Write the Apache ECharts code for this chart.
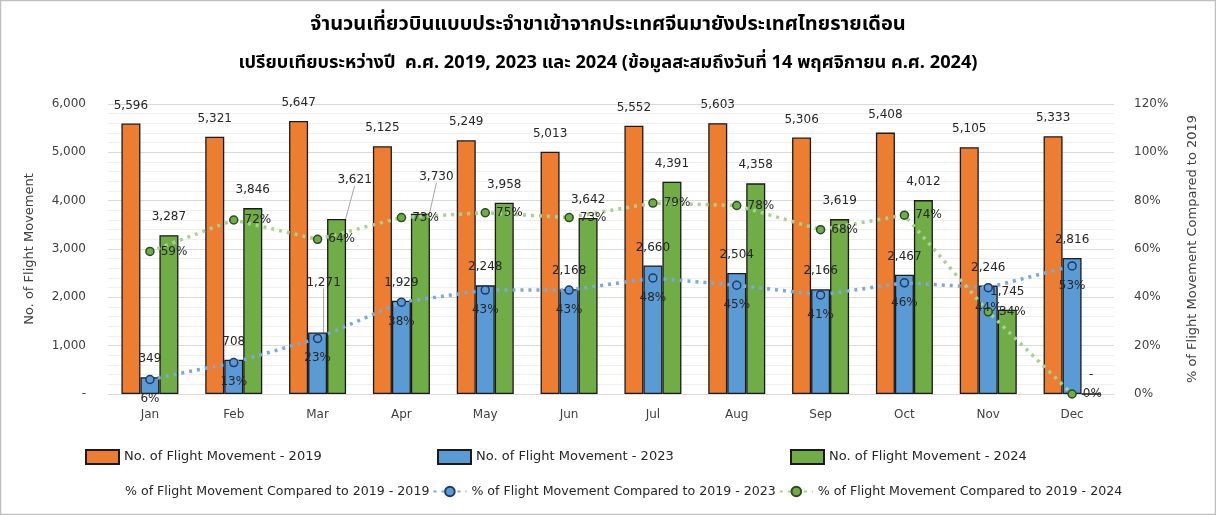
<!DOCTYPE html>
<html>
<head>
<meta charset="utf-8">
<script src="https://cdn.jsdelivr.net/npm/echarts@6/dist/echarts.min.js"></script>
<style>
  html, body { margin: 0; padding: 0; background: #fff; }
  #app { width: 1216px; height: 515px; }
</style>
</head>
<body>
<div id="app"></div>
<script>
const months = ['Jan', 'Feb', 'Mar', 'Apr', 'May', 'Jun', 'Jul', 'Aug', 'Sep', 'Oct', 'Nov', 'Dec']
const flights2019 = [5596, 5321, 5647, 5125, 5249, 5013, 5552, 5603, 5306, 5408, 5105, 5333]
const flights2023 = [349, 708, 1271, 1929, 2248, 2168, 2660, 2504, 2166, 2467, 2246, 2816]
const flights2024 = [3287, 3846, 3621, 3730, 3958, 3642, 4391, 4358, 3619, 4012, 1745, 0]
const pct2019 = [100, 100, 100, 100, 100, 100, 100, 100, 100, 100, 100, 100]
const pct2023 = [6, 13, 23, 38, 43, 43, 48, 45, 41, 46, 44, 53]
const pct2024 = [59, 72, 64, 73, 75, 73, 79, 78, 68, 74, 34, 0]

const FONT = "'DejaVu Sans', sans-serif"
const THAI = "'Noto Sans Thai', 'Noto Sans Thai UI', Tahoma, 'Noto Sans', 'DejaVu Sans', sans-serif"

const name19 = 'No. of Flight Movement - 2019'
const name23 = 'No. of Flight Movement - 2023'
const name24 = 'No. of Flight Movement - 2024'
const pname19 = '% of Flight Movement Compared to 2019 - 2019'
const pname23 = '% of Flight Movement Compared to 2019 - 2023'
const pname24 = '% of Flight Movement Compared to 2019 - 2024'

const fmt = v => v === 0 ? '-' : v.toLocaleString('en-US')

const barLabel = {
  show: true,
  position: 'top',
  distance: 12,
  color: '#262626',
  fontFamily: FONT,
  fontSize: 12,
  formatter: p => fmt(p.value)
}

const legendText = { color: '#262626', fontFamily: FONT, fontSize: 13 }
const titleText = { fontFamily: THAI, fontSize: 20, fontWeight: 'bold', color: '#000' }

// labels moved away from their bar, with a guide line: index -> [dx, dy]
function barSeries(name, data, color, moved) {
  return {
    type: 'bar',
    name: name,
    data: data.map((v, i) => moved[i] ? { value: v, labelLine: { show: true } } : v),
    barWidth: 19,
    barGap: '0%',
    itemStyle: { color: color, borderColor: '#1a1a1a', borderWidth: 1.3 },
    label: barLabel,
    labelLine: { show: false, lineStyle: { color: '#a6a6a6', width: 1 } },
    labelLayout: p => moved[p.dataIndex] ? { dx: moved[p.dataIndex][0], dy: moved[p.dataIndex][1] } : {}
  }
}

const echart = echarts.init(document.getElementById('app'))

echart.setOption({
  animation: false,
  textStyle: { fontFamily: FONT },
  title: [
    { text: 'จำนวนเที่ยวบินแบบประจำขาเข้าจากประเทศจีนมายังประเทศไทยรายเดือน', left: 'center', top: 11, textStyle: titleText },
    {
      text: 'เปรียบเทียบระหว่างปี  ค.ศ. 2019, 2023 และ 2024 (ข้อมูลสะสมถึงวันที่ 14 พฤศจิกายน ค.ศ. 2024)',
      left: 'center', top: 50, textStyle: Object.assign({}, titleText, { fontSize: 18.2 })
    }
  ],
  graphic: [{
    type: 'rect',
    shape: { x: 0.5, y: 0.5, width: 1215, height: 514 },
    style: { fill: 'none', stroke: '#bfbfbf', lineWidth: 1.5 },
    silent: true
  }],
  grid: { left: 108, right: 102, top: 104, bottom: 121 },
  legend: [
    { left: 80, top: 444, itemWidth: 33, itemHeight: 14, textStyle: legendText, data: [{ name: name19, icon: 'rect' }] },
    { left: 432, top: 444, itemWidth: 33, itemHeight: 14, textStyle: legendText, data: [{ name: name23, icon: 'rect' }] },
    { left: 785, top: 444, itemWidth: 33, itemHeight: 14, textStyle: legendText, data: [{ name: name24, icon: 'rect' }] },
    {
      left: 82, top: 480, itemWidth: 33, itemHeight: 12, itemGap: 3,
      textStyle: Object.assign({}, legendText, { fontSize: 12.6 }),
      data: [{ name: pname19, icon: 'none' }, pname23, pname24]
    }
  ],
  xAxis: {
    type: 'category',
    data: months,
    axisLine: { lineStyle: { color: '#d9d9d9' } },
    axisTick: { show: false },
    axisLabel: { color: '#404040', fontSize: 12, fontFamily: FONT, margin: 15 }
  },
  yAxis: [
    {
      type: 'value',
      min: 0,
      max: 6000,
      interval: 1000,
      name: 'No. of Flight Movement',
      nameLocation: 'middle',
      nameGap: 72,
      nameRotate: 90,
      nameTextStyle: { color: '#404040', fontSize: 13, fontFamily: FONT },
      axisLabel: { color: '#404040', fontSize: 12, fontFamily: FONT, margin: 22, formatter: fmt },
      splitLine: { lineStyle: { color: '#d9d9d9' } },
      minorTick: { show: false, splitNumber: 5 },
      minorSplitLine: { show: true, lineStyle: { color: '#efefef' } }
    },
    {
      type: 'value',
      min: 0,
      max: 120,
      interval: 20,
      name: '% of Flight Movement Compared to 2019',
      nameLocation: 'middle',
      nameGap: 72,
      nameRotate: 90,
      nameTextStyle: { color: '#404040', fontSize: 13, fontFamily: FONT },
      axisLabel: { color: '#404040', fontSize: 12, fontFamily: FONT, margin: 20, formatter: '{value}%' },
      splitLine: { show: false }
    }
  ],
  series: [
    barSeries(name19, flights2019, '#ED7D31', {}),
    barSeries(name23, flights2023, '#5B9BD5', { 2: [6, -32] }),
    barSeries(name24, flights2024, '#70AD47', { 2: [18, -21], 3: [16, -19] }),
    {
      type: 'line',
      name: pname19,
      yAxisIndex: 1,
      data: pct2019,
      showSymbol: false,
      lineStyle: { opacity: 0 },
      itemStyle: { color: 'rgba(0,0,0,0)' },
      silent: true
    },
    {
      type: 'line',
      name: pname23,
      yAxisIndex: 1,
      data: pct2023,
      z: 5,
      symbol: 'circle',
      symbolSize: 8,
      lineStyle: { color: '#7AA9DA', width: 3.5, type: [3, 5] },
      itemStyle: { color: '#5B9BD5', borderColor: '#1F3864', borderWidth: 1.5 },
      label: {
        show: true,
        position: 'bottom',
        distance: 9,
        color: '#262626',
        fontSize: 12,
        fontFamily: FONT,
        formatter: '{c}%'
      }
    },
    {
      type: 'line',
      name: pname24,
      yAxisIndex: 1,
      data: pct2024,
      z: 5,
      symbol: 'circle',
      symbolSize: 8,
      lineStyle: { color: '#A9D18E', width: 3.5, type: [3, 5] },
      itemStyle: { color: '#70AD47', borderColor: '#2E4A1E', borderWidth: 1.5 },
      label: {
        show: true,
        position: 'right',
        distance: 6,
        color: '#262626',
        fontSize: 12,
        fontFamily: FONT,
        formatter: '{c}%'
      }
    }
  ]
})
</script>
</body>
</html>
